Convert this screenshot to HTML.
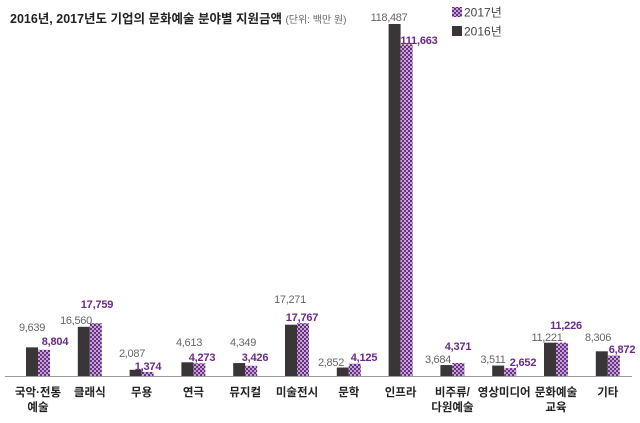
<!DOCTYPE html>
<html><head><meta charset="utf-8"><style>
body{margin:0;background:#fff}
svg{display:block;font-family:"Liberation Sans","Noto Sans CJK KR",sans-serif}
.g{fill:#666;font-size:11px;text-anchor:middle;letter-spacing:-0.3px}
.p{fill:#6a2a8a;font-size:11px;font-weight:bold;text-anchor:middle;letter-spacing:-0.2px}
.c{fill:#222;font-size:11.5px;font-weight:bold;text-anchor:middle}
</style></head><body>
<svg width="640" height="423" viewBox="0 0 640 423">
<defs>
<pattern id="dots" width="4" height="4" patternUnits="userSpaceOnUse">
<rect width="4" height="4" fill="#6c2c8c"/>
<circle cx="1" cy="1" r="0.9" fill="#fff"/>
<circle cx="3" cy="3" r="0.9" fill="#fff"/>
</pattern>
</defs>
<text x="10" y="23" font-size="12.5" font-weight="bold" fill="#222">2016년, 2017년도 기업의 문화예술 분야별 지원금액 <tspan font-size="10" font-weight="normal" fill="#666">(단위: 백만 원)</tspan></text>
<rect x="452" y="7" width="10" height="10" fill="url(#dots)"/>
<text x="464" y="16.5" font-size="12" fill="#444">2017년</text>
<rect x="452" y="26" width="10" height="10" fill="#3a3536"/>
<text x="464" y="35.5" font-size="12" fill="#444">2016년</text>
<line x1="5" y1="376.5" x2="632" y2="376.5" stroke="#999" stroke-width="1"/>
<g id="bars"></g>
</svg>
<script>
var d=[[9639,8804,"국악·전통","예술",32,327,55,341],[16560,17759,"클래식","",76,320,97,304],[2087,1374,"무용","",132,353,148,366],[4613,4273,"연극","",189,342,202,357],[4349,3426,"뮤지컬","",243,342,255,357],[17271,17767,"미술전시","",290,299,302,317],[2852,4125,"문학","",331,362,364,357],[118487,111663,"인프라","",389,17,419,40],[3684,4371,"비주류/","다원예술",438,359,458,346],[3511,2652,"영상미디어","",493,359,523,362],[11221,11226,"문화예술","교육",547,337,566,325],[8306,6872,"기타","",598,337,622,349]];
var s="",k=352/118487,B=376;
function f(n){return n.toLocaleString("en-US")}
d.forEach(function(r,i){var c=38+51.8*i,h1=r[0]*k,h2=r[1]*k;
s+='<rect x="'+(c-12)+'" y="'+(B-h1)+'" width="12" height="'+h1+'" fill="#3a3536"/>';
s+='<rect x="'+c+'" y="'+(B-h2)+'" width="12" height="'+h2+'" fill="url(#dots)"/>';
s+='<text class="g" x="'+r[4]+'" y="'+(r[5]+4)+'">'+f(r[0])+'</text>';
s+='<text class="p" x="'+r[6]+'" y="'+(r[7]+4)+'">'+f(r[1])+'</text>';
s+='<text class="c" x="'+c+'" y="396">'+r[2]+'</text>';
if(r[3])s+='<text class="c" x="'+c+'" y="411">'+r[3]+'</text>';});
document.getElementById("bars").innerHTML=s;
</script>
</body></html>
